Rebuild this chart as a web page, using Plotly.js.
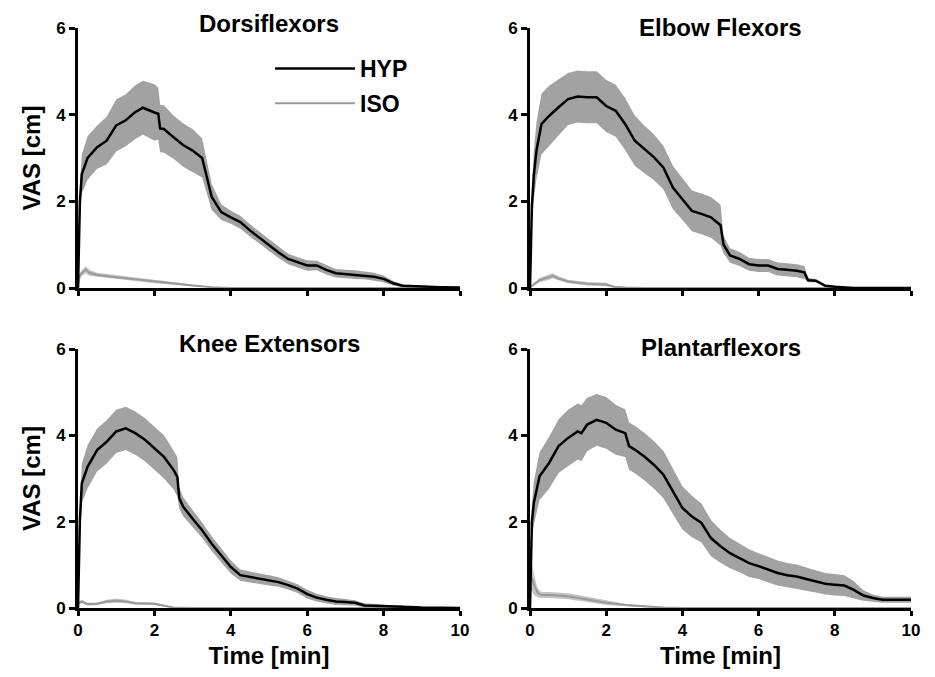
<!DOCTYPE html>
<html>
<head>
<meta charset="utf-8">
<script src="https://cdn.plot.ly/plotly-3.0.1.min.js"></script>
<style>html,body{margin:0;padding:0;background:#fff;}#chart{width:935px;height:677px;}</style>
</head>
<body>
<div id="chart"></div>
<script>
// ---------- Data ----------
const panelTitles = ["Dorsiflexors", "Elbow Flexors", "Knee Extensors", "Plantarflexors"];
const seriesNames = ["HYP", "ISO"];
const xTickVals = [0, 2, 4, 6, 8, 10];
const yTickVals = [0, 2, 4, 6];

// Dorsiflexors
const T_DF = [0, 0.05, 0.1, 0.25, 0.5, 0.75, 1, 1.25, 1.5, 1.7, 2, 2.1, 2.15, 2.25, 2.5, 2.75, 3, 3.25, 3.5, 3.75, 4, 4.25, 4.5, 4.75, 5, 5.25, 5.5, 5.75, 6, 6.25, 6.5, 6.75, 7, 7.25, 7.5, 7.75, 8, 8.25, 8.5, 9, 9.5, 10];
const HYP_DF = [0, 2.0, 2.63, 3.0, 3.25, 3.4, 3.75, 3.87, 4.06, 4.16, 4.05, 4.02, 3.68, 3.67, 3.48, 3.3, 3.17, 3.0, 2.1, 1.75, 1.63, 1.52, 1.33, 1.16, 0.98, 0.82, 0.67, 0.59, 0.52, 0.52, 0.42, 0.34, 0.32, 0.31, 0.29, 0.26, 0.21, 0.11, 0.05, 0.03, 0.02, 0.01];
const HYP_SE_DF = [0, 0.35, 0.45, 0.5, 0.5, 0.55, 0.6, 0.6, 0.62, 0.62, 0.65, 0.6, 0.55, 0.55, 0.5, 0.5, 0.5, 0.45, 0.3, 0.18, 0.15, 0.15, 0.14, 0.14, 0.13, 0.13, 0.12, 0.12, 0.12, 0.11, 0.11, 0.1, 0.1, 0.1, 0.09, 0.09, 0.08, 0.05, 0.03, 0.02, 0.02, 0.01];
const T_ISO_DF = [0, 0.05, 0.2, 0.3, 0.5, 0.75, 1, 1.5, 2, 2.5, 3, 3.5, 4, 10];
const ISO_DF = [0.05, 0.3, 0.42, 0.35, 0.3, 0.27, 0.25, 0.2, 0.15, 0.1, 0.06, 0.02, 0, 0];
const ISO_SE_DF = [0.03, 0.06, 0.08, 0.07, 0.05, 0.05, 0.04, 0.04, 0.04, 0.03, 0.02, 0.01, 0, 0];

// Elbow Flexors
const T_EF = [0, 0.05, 0.1, 0.17, 0.3, 0.5, 0.75, 1, 1.25, 1.5, 1.75, 2, 2.25, 2.5, 2.75, 3, 3.25, 3.5, 3.75, 4, 4.25, 4.5, 4.75, 5, 5.08, 5.25, 5.5, 5.75, 6, 6.25, 6.5, 6.75, 7, 7.2, 7.3, 7.5, 7.75, 8, 8.25, 8.5, 10];
const HYP_EF = [0, 1.9, 2.6, 3.17, 3.78, 3.97, 4.17, 4.36, 4.42, 4.4, 4.4, 4.2, 4.09, 3.78, 3.4, 3.2, 3.02, 2.78, 2.32, 2.05, 1.78, 1.71, 1.63, 1.45, 1.0, 0.75, 0.67, 0.55, 0.52, 0.52, 0.44, 0.42, 0.4, 0.36, 0.18, 0.17, 0.05, 0.03, 0.01, 0, 0];
const HYP_SE_EF = [0, 0.4, 0.55, 0.65, 0.7, 0.7, 0.65, 0.6, 0.6, 0.6, 0.6, 0.6, 0.6, 0.6, 0.58, 0.55, 0.53, 0.5, 0.5, 0.48, 0.47, 0.47, 0.47, 0.47, 0.2, 0.17, 0.16, 0.15, 0.15, 0.15, 0.15, 0.15, 0.15, 0.15, 0.05, 0.04, 0.03, 0.02, 0.01, 0, 0];
const T_ISO_EF = [0, 0.25, 0.5, 0.6, 0.75, 1, 1.5, 2, 2.2, 2.5, 3, 10];
const ISO_EF = [0.02, 0.18, 0.25, 0.28, 0.22, 0.15, 0.1, 0.08, 0.03, 0.01, 0, 0];
const ISO_SE_EF = [0.02, 0.05, 0.06, 0.06, 0.05, 0.04, 0.04, 0.04, 0.02, 0.01, 0, 0];

// Knee Extensors
const T_KE = [0, 0.05, 0.1, 0.25, 0.5, 0.75, 1, 1.25, 1.5, 1.75, 2, 2.25, 2.5, 2.6, 2.65, 2.75, 3, 3.25, 3.5, 3.75, 4, 4.25, 4.5, 4.75, 5, 5.25, 5.5, 5.75, 6, 6.25, 6.5, 6.75, 7, 7.25, 7.5, 8, 8.5, 9, 10];
const HYP_KE = [0, 2.04, 2.89, 3.27, 3.66, 3.85, 4.09, 4.16, 4.05, 3.9, 3.7, 3.5, 3.2, 3.04, 2.55, 2.35, 2.07, 1.8, 1.49, 1.22, 0.95, 0.76, 0.72, 0.68, 0.64, 0.6, 0.53, 0.45, 0.32, 0.24, 0.19, 0.15, 0.14, 0.12, 0.06, 0.05, 0.03, 0.01, 0];
const HYP_SE_KE = [0, 0.35, 0.45, 0.5, 0.5, 0.5, 0.5, 0.5, 0.5, 0.5, 0.5, 0.5, 0.45, 0.45, 0.25, 0.22, 0.2, 0.18, 0.17, 0.16, 0.15, 0.13, 0.12, 0.12, 0.12, 0.11, 0.1, 0.1, 0.1, 0.09, 0.08, 0.08, 0.07, 0.06, 0.05, 0.03, 0.02, 0.01, 0];
const T_ISO_KE = [0, 0.1, 0.25, 0.5, 0.75, 1, 1.25, 1.5, 2, 2.25, 2.5, 3, 10];
const ISO_KE = [0.1, 0.15, 0.09, 0.1, 0.15, 0.17, 0.15, 0.11, 0.1, 0.05, 0.01, 0, 0];
const ISO_SE_KE = [0.04, 0.04, 0.03, 0.03, 0.04, 0.05, 0.04, 0.03, 0.03, 0.02, 0.01, 0, 0];

// Plantarflexors
const T_PF = [0, 0.05, 0.1, 0.25, 0.5, 0.75, 1, 1.25, 1.35, 1.5, 1.75, 2, 2.25, 2.5, 2.6, 2.75, 3, 3.25, 3.5, 3.75, 4, 4.25, 4.5, 4.75, 5, 5.25, 5.5, 5.75, 6, 6.25, 6.5, 6.75, 7, 7.25, 7.5, 7.75, 8, 8.25, 8.5, 8.75, 9, 9.25, 10];
const HYP_PF = [0, 2.0, 2.43, 3.05, 3.36, 3.75, 3.94, 4.09, 4.05, 4.25, 4.36, 4.29, 4.13, 4.05, 3.75, 3.67, 3.51, 3.32, 3.09, 2.7, 2.32, 2.12, 1.97, 1.62, 1.43, 1.27, 1.16, 1.04, 0.97, 0.89, 0.81, 0.76, 0.73, 0.67, 0.62, 0.56, 0.54, 0.52, 0.42, 0.29, 0.23, 0.19, 0.19];
const HYP_SE_PF = [0, 0.4, 0.5, 0.55, 0.6, 0.62, 0.65, 0.65, 0.65, 0.62, 0.6, 0.6, 0.58, 0.55, 0.55, 0.55, 0.55, 0.55, 0.55, 0.52, 0.5, 0.48, 0.45, 0.42, 0.38, 0.35, 0.33, 0.32, 0.3, 0.3, 0.29, 0.28, 0.28, 0.27, 0.26, 0.25, 0.25, 0.24, 0.2, 0.12, 0.08, 0.07, 0.07];
const T_ISO_PF = [0, 0.05, 0.1, 0.2, 0.3, 0.5, 1, 1.5, 2, 2.5, 3, 3.5, 4, 10];
const ISO_PF = [0.6, 0.7, 0.55, 0.35, 0.3, 0.3, 0.27, 0.2, 0.12, 0.07, 0.04, 0.01, 0, 0];
const ISO_SE_PF = [0.3, 0.3, 0.25, 0.1, 0.07, 0.07, 0.07, 0.06, 0.05, 0.03, 0.02, 0.01, 0, 0];

// ---------- Build ----------
const panels = [
  {t: T_DF, hyp: HYP_DF, hse: HYP_SE_DF, ti: T_ISO_DF, iso: ISO_DF, ise: ISO_SE_DF},
  {t: T_EF, hyp: HYP_EF, hse: HYP_SE_EF, ti: T_ISO_EF, iso: ISO_EF, ise: ISO_SE_EF},
  {t: T_KE, hyp: HYP_KE, hse: HYP_SE_KE, ti: T_ISO_KE, iso: ISO_KE, ise: ISO_SE_KE},
  {t: T_PF, hyp: HYP_PF, hse: HYP_SE_PF, ti: T_ISO_PF, iso: ISO_PF, ise: ISO_SE_PF}
];

const HYP_BAND = "#a2a2a2", HYP_LINE = "#000000";
const ISO_BAND = "#c4c4c4", ISO_LINE = "#9a9a9a";

function band(t, m, se, color, xa, ya) {
  const up = m.map((v, i) => v + se[i]);
  const lo = m.map((v, i) => Math.max(0, v - se[i]));
  return {
    x: t.concat(t.slice().reverse()),
    y: up.concat(lo.slice().reverse()),
    type: "scatter", mode: "lines", fill: "toself", fillcolor: color,
    line: {width: 0, color: color}, hoverinfo: "skip", showlegend: false,
    xaxis: xa, yaxis: ya
  };
}

const traces = [];
panels.forEach((p, k) => {
  const xa = "x" + (k === 0 ? "" : k + 1);
  const ya = "y" + (k === 0 ? "" : k + 1);
  traces.push(band(p.ti, p.iso, p.ise, ISO_BAND, xa, ya));
  traces.push({x: p.ti, y: p.iso, type: "scatter", mode: "lines", name: seriesNames[1],
    line: {color: ISO_LINE, width: 2}, showlegend: k === 0, legendgroup: "iso", legendrank: 2,
    xaxis: xa, yaxis: ya});
  traces.push(band(p.t, p.hyp, p.hse, HYP_BAND, xa, ya));
  traces.push({x: p.t, y: p.hyp, type: "scatter", mode: "lines", name: seriesNames[0],
    line: {color: HYP_LINE, width: 2.5}, showlegend: k === 0, legendgroup: "hyp", legendrank: 1,
    xaxis: xa, yaxis: ya});
});

const W = 935, H = 677;
const xDom = [[78 / W, 460 / W], [530 / W, 911 / W]];
const yDom = [[(H - 288) / H, (H - 28) / H], [(H - 608) / H, (H - 349) / H]];
const FONT = "Liberation Sans, Arial, sans-serif";
const tickFont = {family: FONT, size: 17, color: "#000", weight: "bold"};
const titleFont = {family: FONT, size: 24, color: "#000", weight: "bold"};

function xAxis(k) {
  const bottom = k >= 2;
  return {
    domain: xDom[k % 2], anchor: "y" + (k === 0 ? "" : k + 1), range: [0, 10],
    tickvals: xTickVals, ticks: "outside", ticklen: 5, tickwidth: 3, tickcolor: "#000",
    showline: true, linewidth: 3, linecolor: "#000", showgrid: false, zeroline: false,
    showticklabels: bottom, tickfont: tickFont,
    title: bottom ? {text: "Time [min]", font: titleFont, standoff: 8} : {text: ""}
  };
}
function yAxis(k) {
  const left = k % 2 === 0;
  return {
    domain: yDom[k < 2 ? 0 : 1], anchor: "x" + (k === 0 ? "" : k + 1), range: [0, 6],
    tickvals: yTickVals, ticks: "outside", ticklen: 6, tickwidth: 3, tickcolor: "#000",
    showline: true, linewidth: 3, linecolor: "#000", showgrid: false, zeroline: false,
    tickfont: tickFont,
    title: left ? {text: "VAS [cm]", font: titleFont, standoff: 9} : {text: ""}
  };
}

const titleY = [1 - 23 / H, 1 - 27 / H, 1 - 343 / H, 1 - 347 / H];
const annotations = panelTitles.map((txt, k) => ({
  text: txt, xref: "paper", yref: "paper",
  x: (xDom[k % 2][0] + xDom[k % 2][1]) / 2, y: titleY[k],
  xanchor: "center", yanchor: "middle", showarrow: false,
  font: {family: FONT, size: 24, color: "#000", weight: "bold"}
}));

const layout = {
  width: W, height: H, margin: {l: 0, r: 0, t: 0, b: 0},
  paper_bgcolor: "#fff", plot_bgcolor: "rgba(0,0,0,0)",
  showlegend: true,
  legend: {x: 270 / W, y: 1 - 47 / H, xanchor: "left", yanchor: "top",
    bgcolor: "rgba(0,0,0,0)", itemwidth: 80, tracegroupgap: 2,
    font: {family: FONT, size: 23, color: "#000", weight: "bold"}},
  annotations: annotations
};
for (let k = 0; k < 4; k++) {
  layout["xaxis" + (k === 0 ? "" : k + 1)] = xAxis(k);
  layout["yaxis" + (k === 0 ? "" : k + 1)] = yAxis(k);
}

Plotly.newPlot("chart", traces, layout, {displayModeBar: false, staticPlot: true});
</script>
</body>
</html>
